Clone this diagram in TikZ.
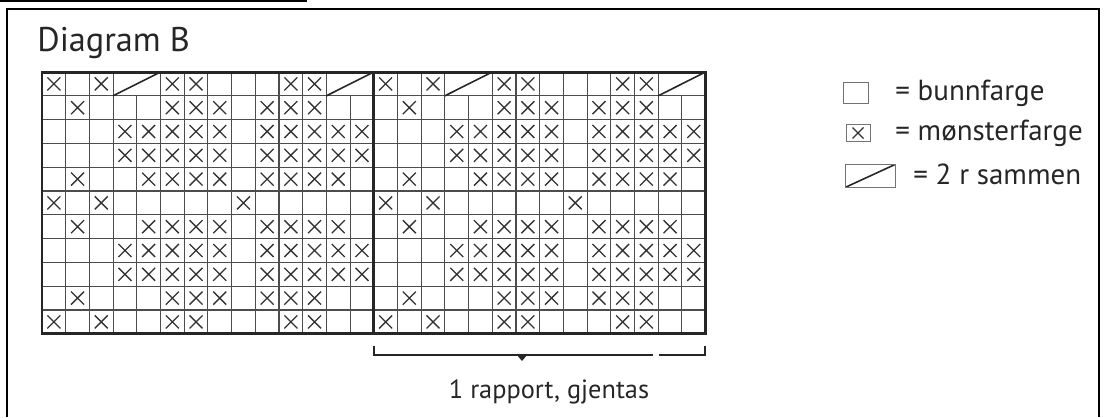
\documentclass[tikz,border=0pt]{standalone}
\usepackage{fontspec}
\setmainfont{PT Sans}
\usetikzlibrary{positioning, calc}

\newcommand{\cellw}{23.7}
\newcommand{\cellh}{23.8}

\begin{document}
\begin{tikzpicture}[
    x=0.02cm, y=-0.02cm,
    cellline/.style={line width=0.6pt, black!70},
    thickline/.style={line width=1.7pt, black!85},
    cross/.style={line width=0.75pt, black!80},
    slash/.style={line width=0.9pt, black!85},
    title/.style={font=\fontsize{19.5}{22}\selectfont, inner sep=0pt, anchor=base west, text=black!85},
    legtext/.style={font=\fontsize{16.5}{19}\selectfont, inner sep=0pt, anchor=base west, text=black!85},
    legbox/.style={draw=black!55, line width=0.5pt, inner sep=0pt, minimum width=#1, minimum height=0.42cm},
    legbox/.default=0.5cm
]
\useasboundingbox (0,0) rectangle (1104,417);

% Frame
\draw[line width=1.2pt] (0,1) -- (307,1);
\draw[line width=1.4pt] (7,417) -- (7,9) -- (1099,9) -- (1099,417);

% Title
\node[title] (title) at (37,51) {Diagram B};

% Grid lines
\foreach \i in {1,...,10}
  \draw[cellline] (42,{72+\i*\cellh}) -- ({42+28*\cellw},{72+\i*\cellh});
\foreach \i in {1,2,3,5,6,7,8,9,10,11,12,15,16,17,19,20,21,22,23,24,25,26}
  \draw[cellline] ({42+\i*\cellw},72) -- ({42+\i*\cellw},{72+11*\cellh});
\foreach \i in {4,13,18,27}
  \draw[cellline] ({42+\i*\cellw},{72+\cellh}) -- ({42+\i*\cellw},{72+11*\cellh});

% 2 r sammen
\foreach \c in {4,13,18,27}
  \draw[slash] ({42+(\c-1)*\cellw},{72+\cellh}) -- ({42+(\c+1)*\cellw},72);

% Pattern crosses, both repeats
\foreach \r/\cols in {1/{1,3,6,7,11,12}, 2/{2,6,7,8,10,11,12},
    3/{4,5,6,7,8,10,11,12,13,14}, 4/{4,5,6,7,8,10,11,12,13,14},
    5/{2,5,6,7,8,10,11,12,13}, 6/{1,3,9}, 7/{2,5,6,7,8,10,11,12,13},
    8/{4,5,6,7,8,10,11,12,13,14}, 9/{4,5,6,7,8,10,11,12,13,14},
    10/{2,6,7,8,10,11,12}, 11/{1,3,6,7,11,12}}
  \foreach \h in {0,1}
    \foreach \c in \cols
      \draw[cross] ({42+(\c-0.5+14*\h)*\cellw-6.5},{72+(\r-0.5)*\cellh-6.5})
        -- ++(13,13) ++(-13,0) -- ++(13,-13);

% Thick outline
\draw[thickline] (42,72) rectangle ({42+28*\cellw},{72+11*\cellh});
\draw[thickline] ({42+14*\cellw},72) -- ({42+14*\cellw},{72+11*\cellh});

% Legend
\node[legbox] (bunn) at (856,93) {};
\node[legtext] (bunntxt) at (895,100) {= bunnfarge};
\node[legbox=0.48cm, minimum height=0.34cm,
  path picture={\draw[cross] ($(path picture bounding box.center)+(-5.5,-5.5)$) -- ++(11,11) ++(-11,0) -- ++(11,-11);}]
  (moenster) at (858,133) {};
\node[legtext] (moenstertxt) at (895,140) {= mønsterfarge};
\node[legbox=1.0cm, minimum height=0.46cm,
  path picture={\draw[slash] (path picture bounding box.south west) -- (path picture bounding box.north east);}]
  (sammen) at (870,176) {};
\node[legtext] (sammentxt) at (913,184) {= 2 r sammen};

% Repeat bracket
\coordinate (brL) at ({42+14*\cellw},346);
\coordinate (brR) at (705,346);
\coordinate (gapL) at (653,355);
\coordinate (gapR) at (659,355);
\coordinate (tip) at (522,355);
\draw[line width=0.8pt, black!85] (brL) |- (gapL);
\draw[line width=0.8pt, black!85] (gapR) -| (brR);
\fill[black!85] (tip) ++(-5,0) -- ++(10,0) -- ++(-5,6) -- cycle;
\node[legtext, anchor=base, font=\fontsize{15}{18}\selectfont] (rapport) at (549,398) {1 rapport, gjentas};

\end{tikzpicture}
\end{document}
